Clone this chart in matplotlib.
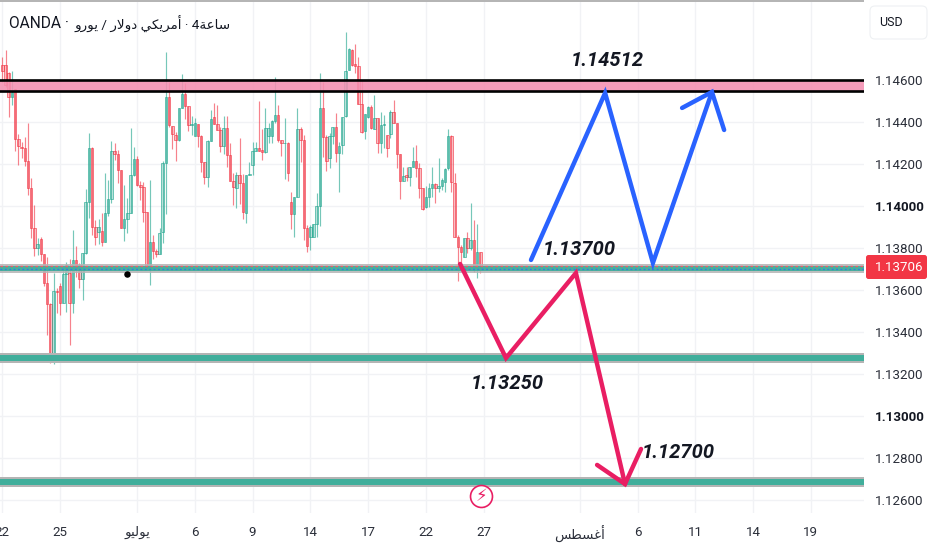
import matplotlib
matplotlib.use("Agg")
import matplotlib.pyplot as plt
from matplotlib.patches import FancyBboxPatch, Rectangle
from matplotlib.colors import to_rgba
from matplotlib.transforms import IdentityTransform
import numpy as np

# OHLC, in 1e-5 price points, 4h EUR/USD candles
open_pts = [
114672,114672,114632,114518,114556,114318,114280,114275,114216,114088,
113894,113799,113842,113770,113632,113532,113296,113597,113619,113537,
113677,113680,113540,113743,113719,113653,113775,114018,114278,113902,
113878,113881,113830,113965,114034,114262,114248,114172,113894,113938,
113965,114146,114222,114102,114092,113970,113711,113827,113786,113772,
113878,114207,114521,114381,114338,114315,114465,114534,114478,114384,
114335,114391,114335,114211,114140,114311,114426,114391,114362,114286,
114370,114241,114121,114086,114146,114108,113965,114146,
114196,114264,114275,114267,114256,114335,114335,114405,114434,114312,
114299,114302,114021,113962,114045,114365,114315,113894,113854,113851,
113915,114002,114465,114327,114227,114334,114375,114251,114291,114429,
114648,114743,114675,114667,114484,114358,114423,114470,114365,114418,
114299,114385,114339,114343,114450,114397,114246,114121,114148,114137,
114185,114216,114180,114088,113994,114045,114088,114105,114085,114097,
114113,114180,114331,114108,113854,113807,113759,113847,113799,113839,
113704,113780]
close_pts = [
114645,114576,114518,114545,114318,114288,114275,114216,114088,113894,
113802,113819,113770,113632,113532,113296,113597,113589,113537,113677,
113719,113540,113743,113704,113653,113775,114018,114278,113902,113854,
113902,113830,113965,114034,114262,114248,114172,113894,113938,113965,
114146,114222,114102,114092,113970,113711,113827,113788,113772,113873,
114207,114521,114386,114343,114315,114465,114534,114478,114384,114391,
114394,114335,114211,114140,114311,114413,114391,114362,114286,114370,
114241,114121,114092,114146,114108,113970,114146,114153,
114264,114275,114264,114256,114370,114370,114405,114431,114312,114302,
114302,114159,113962,114042,114365,114315,113894,113810,113899,113915,
114002,114465,114327,114216,114335,114375,114251,114288,114426,114643,
114746,114672,114669,114484,114354,114437,114473,114370,114418,114299,
114386,114389,114275,114450,114397,114246,114121,114143,114140,114185,
114216,114180,114088,113985,114042,114088,114105,114088,114097,114124,
114177,114331,114112,113854,113804,113780,113847,113799,113839,113704,
113780,113706]
high_pts = [
114711,114743,114640,114645,114556,114341,114307,114327,114397,114132,
114005,113846,113850,113770,113759,113537,113683,113608,113632,113704,
113735,113746,113886,113811,113727,113775,114080,114346,114283,113934,
113937,113965,114156,114124,114311,114299,114267,114172,114100,114037,
114373,114280,114238,114121,114116,113970,114124,113862,113796,113894,
114216,114735,114592,114381,114354,114465,114629,114584,114478,114429,
114418,114391,114338,114211,114315,114457,114489,114481,114375,114429,
114429,114302,114159,114161,114322,114151,114148,114211,
114307,114307,114500,114365,114465,114394,114410,114613,114481,114312,
114418,114307,114069,114042,114465,114378,114339,113910,113910,113915,
114064,114632,114592,114339,114346,114375,114445,114307,114426,114830,
114751,114746,114772,114711,114600,114437,114477,114481,114529,114418,
114450,114434,114339,114458,114505,114397,114246,114188,114188,114185,
114283,114291,114204,114088,114093,114108,114188,114108,114227,114132,
114180,114365,114339,114156,113862,113815,113847,113878,114016,113934,
113915,113780]
low_pts = [
114592,114568,114426,114481,114264,114196,114227,114192,114053,113846,
113762,113767,113740,113619,113386,113254,113248,113489,113481,113537,
113497,113339,113489,113664,113608,113550,113772,113945,113862,113815,
113818,113811,113830,113950,114016,114219,114108,113894,113834,113870,
113965,114143,114096,114029,113926,113703,113624,113746,113759,113772,
113823,113962,114378,114270,114215,114311,114465,114413,114357,114338,
114334,114283,114164,114105,114092,114311,114391,114362,114259,114246,
114188,114121,114005,113989,114010,113937,113918,114146,
114148,114264,114264,114219,114251,114302,114302,114394,114307,114238,
114127,114121,113891,113850,114045,114211,113839,113783,113791,113851,
113854,113905,114235,114169,114180,114296,114208,114066,114246,114426,
114648,114669,114632,114484,114350,114318,114418,114365,114365,114251,
114251,114275,114235,114323,114394,114180,114032,114121,114121,114096,
114185,114140,114037,113981,113989,113994,114045,114013,114069,114077,
114069,114172,114069,113854,113645,113727,113759,113775,113791,113688,
113656,113680]

# Axes labels
price_ticks = [1.146, 1.144, 1.142, 1.140, 1.138, 1.136, 1.134, 1.132, 1.130, 1.128, 1.126]
bold_ticks = [1.140, 1.130]
date_tick_idx = [0, 18, 42, 60, 78, 96, 114, 132, 150, 180, 198, 216, 234, 252]
date_labels = ["22", "25", "يوليو", "6", "9", "14", "17", "22", "27", "أغسطس", "6", "11", "14", "19"]
# contextual, visual-order glyphs for display (matplotlib does no Arabic shaping)
display_form = {"يوليو": "\ufeee\ufef4\ufedf\ufeee\ufef3",
                "أغسطس": "\ufeb2\ufec4\ufeb4\ufecf\ufe83",
                "يورو": "\ufeed\ufead\ufeee\ufef3",
                "دولار": "\ufead\ufefb\ufeed\ufea9",
                "أمريكي": "\ufef2\ufedc\ufef3\ufeae\ufee3\ufe83",
                "ساعة": "\ufe94\ufecb\ufe8e\ufeb3"}
broker = "OANDA"
pair_words = ["يورو", "دولار", "أمريكي"]
interval_word = "ساعة"
last_price = 1.13706

# Drawn zones (price bounds)
top_zone = (1.14550, 1.14598)
mid_zone = (1.13681, 1.13724)
mid_core = (1.13690, 1.13714)
mid_red, mid_blue = 1.13714, 1.13698
low_zone = (1.13250, 1.13302)
low_core = (1.13260, 1.13291)
bot_zone = (1.12662, 1.12709)
bot_core = (1.12672, 1.12699)

# Drawn paths
blue_idx = [164.8, 187.9, 202.8, 221.2]
blue_px = [1.13743, 1.14538, 1.13729, 1.14543]
blue_head_idx = [211.9, 221.2, 225.0]
blue_head_px = [1.14467, 1.14543, 1.14362]
red_idx = [142.7, 157.0, 178.8, 194.1]
red_px = [1.13724, 1.13276, 1.13681, 1.12676]
red_head_idx = [185.4, 194.1, 199.1]
red_head_px = [1.12767, 1.12676, 1.12843]

# Annotations: text, candle index, price
notes = [("1.14512", 188.5, 1.14694), ("1.13700", 179.8, 1.13795),
         ("1.13250", 157.5, 1.13157), ("1.12700", 210.6, 1.12824)]
dot_idx, dot_px = 38.9, 1.13676
flash_idx, flash_px = 149.3, 1.12620

W, H = 932, 550
RED, TEAL = "#f23645", "#22a68f"
fam = ["Roboto", "DejaVu Sans"]
plt.rcParams["font.family"] = fam

fig = plt.figure(figsize=(W / 100, H / 100), dpi=100, facecolor="white")
ax = fig.add_axes([0, (H - 513) / H, 864 / W, 513 / H], facecolor="white")
ax.set_xlim(-0.72, 268.6)
ax.set_ylim(1.12538, 1.14981)
for s in ax.spines.values():
    s.set_visible(False)

idx = np.arange(len(open_pts))
o, c = np.array(open_pts) / 1e5, np.array(close_pts) / 1e5
hi, lo = np.array(high_pts) / 1e5, np.array(low_pts) / 1e5
up = c >= o
cols = [TEAL if u else RED for u in up]
ax.vlines(idx, lo, hi, colors=[to_rgba(k, 0.62) for k in cols], lw=0.85, zorder=2)
ax.bar(idx, np.abs(c - o), bottom=np.minimum(o, c), width=0.78,
       facecolor=[to_rgba(k, 0.28) for k in cols],
       edgecolor=[to_rgba(k, 0.72) for k in cols], linewidth=0.6, zorder=3)

ax.set_yticks(price_ticks)
ax.set_yticklabels([f"{p:.5f}" for p in price_ticks])
ax.yaxis.tick_right()
ax.tick_params(axis="y", length=0, pad=8, labelsize=9.6, labelcolor="#2a2e39")
for lab, p in zip(ax.get_yticklabels(), price_ticks):
    if p in bold_ticks:
        lab.set_fontweight("bold")
        lab.set_color("#131722")
ax.set_xticks(date_tick_idx)
ax.set_xticklabels([display_form.get(s, s) for s in date_labels])
ax.tick_params(axis="x", length=0, pad=9, labelsize=9.6, labelcolor="#2a2e39")
ax.grid(True, color="#f1f2f5", lw=1.0, zorder=0)
ax.set_axisbelow(True)

# zones
ax.axhspan(*top_zone, color="#f48fb1", alpha=0.88, lw=0, zorder=5)
for v in top_zone:
    ax.axhline(v, color="black", lw=1.9, zorder=6)
ax.axhspan(*mid_zone, color="#b4b4b4", alpha=0.85, lw=0, zorder=5)
ax.axhspan(*mid_core, color="#3fae9a", alpha=0.92, lw=0, zorder=5)
ax.axhline(mid_red, color="#f2596b", lw=0.9, ls=(0, (2, 2)), zorder=6)
ax.axhline(mid_blue, color="#2f7fe0", lw=0.9, ls=(0, (1.5, 2)), zorder=6)
for band, core in ((low_zone, low_core), (bot_zone, bot_core)):
    ax.axhspan(*band, color="#b4b4b4", lw=0, zorder=5)
    ax.axhspan(*core, color="#40ae9b", lw=0, zorder=5)

# paths
lkw = dict(lw=3.2, solid_joinstyle="miter", solid_capstyle="round", zorder=8)
ax.plot(blue_idx, blue_px, color="#2962ff", **lkw)
ax.plot(blue_head_idx, blue_head_px, color="#2962ff", **lkw)
ax.plot(red_idx, red_px, color="#e91e63", **lkw)
ax.plot(red_head_idx, red_head_px, color="#e91e63", **lkw)

for t, xi, p in notes:
    ax.text(xi, p, t, ha="center", va="center", fontsize=14.5, fontweight="bold",
            fontstyle="italic", color="#131722", zorder=9)

ax.scatter([dot_idx], [dot_px], s=22, color="black", zorder=9, lw=0)
ax.scatter([flash_idx], [flash_px], s=250, facecolor="white", edgecolor="#e91e63",
           linewidth=1.2, zorder=9)
ax.text(flash_idx, flash_px, "⚡", ha="center", va="center", fontsize=12,
        color="#e91e63", family="DejaVu Sans", zorder=10)

# chrome
fig.add_artist(Rectangle((0, 1 - 2 / H), 864 / W, 2 / H, transform=fig.transFigure,
                         color="#b5b5b5", lw=0))
shown = [display_form[w] for w in pair_words]
fig.text(9 / W, 1 - 24 / H, f"{broker} ·", fontsize=11.2, color="#131722", va="center", ha="left")
fig.text(74 / W, 1 - 24 / H, f"{shown[0]} / {shown[1]} {shown[2]} · 4{display_form[interval_word]}",
         fontsize=9.7, color="#131722", va="center", ha="left")
usd = FancyBboxPatch((870, H - 39), 57, 33, boxstyle="round,pad=0,rounding_size=5",
                     transform=IdentityTransform(), facecolor="white", edgecolor="#eef0f3", lw=0.8)
fig.add_artist(usd)
fig.text(891 / W, 1 - 22 / H, "USD", fontsize=9, color="#131722", ha="center", va="center")
tag = FancyBboxPatch((866, H - 279), 61, 24, boxstyle="round,pad=0,rounding_size=2.5",
                     transform=IdentityTransform(), facecolor=RED, edgecolor="none")
fig.add_artist(tag)
fig.text(875 / W, 1 - 267.5 / H, f"{last_price:.5f}", fontsize=9.6, color="white", ha="left", va="center")

fig.savefig("out.png", dpi=100)
